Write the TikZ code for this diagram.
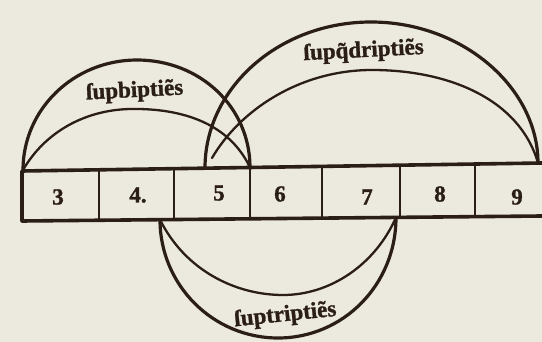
\documentclass[tikz,border=0pt]{standalone}
\usepackage{fontspec}
\setmainfont{Liberation Serif}
\newfontfamily\heavyfont{Liberation Serif Bold}[FakeBold=1.2]
\definecolor{paper}{HTML}{ECE9DF}
\definecolor{ink}{HTML}{2A1E17}
\tikzset{
  stripline/.style={ink, line width=3.6pt, line join=round, line cap=round},
  divider/.style={ink, line width=2.2pt},
  outerarc/.style={ink, line width=3.2pt, line cap=round},
  innerarc/.style={ink, line width=2.3pt, line cap=round},
  numlabel/.style={text=ink, font=\fontsize{23}{23}\heavyfont, inner sep=0pt},
  arclabel/.style={text=ink, font=\fontsize{23}{23}\heavyfont, inner sep=0pt, anchor=base},
}
\begin{document}
\begin{tikzpicture}[x=1pt, y=-1pt]
  \fill[paper] (0,0) rectangle (542,342);
  \useasboundingbox (0,0) rectangle (542,342);

  % strip corners
  \coordinate (sTL) at (22,171);
  \coordinate (sTR) at (542,163);
  \coordinate (sBL) at (22,221);
  \coordinate (sBR) at (542,216);
  \draw[stripline] (sTR) -- (sTL) -- (sBL) -- (sBR);

  % dividers
  \foreach \i/\x/\t/\b in {1/99/169.8/220.3, 2/174/168.7/219.5, 3/250/167.5/218.8,
                           4/322/166.4/218.1, 5/400/165.2/217.4, 6/475/164.0/216.6} {
    \coordinate (d\i t) at (\x,\t);
    \coordinate (d\i b) at (\x,\b);
    \draw[divider] (d\i t) -- (d\i b);
  }

  % numbers
  \node[numlabel] (n3) at (58,197) {3};
  \node[numlabel] (n4) at (138,195) {4.};
  \node[numlabel] (n5) at (219,193) {5};
  \node[numlabel] (n6) at (280,194) {6};
  \node[numlabel] (n7) at (367,197) {7};
  \node[numlabel] (n8) at (440,194) {8};
  \node[numlabel] (n9) at (517,197) {9};

  % arc end points
  \coordinate (bA) at (23,170);
  \coordinate (bB) at (250,167.5);
  \coordinate (qA) at (205,168);
  \coordinate (qAi) at (212,158);
  \coordinate (qB) at (538,163);
  \coordinate (tA) at (160,219.7);
  \coordinate (tB) at (396,217.4);

  % superbipartientes
  \draw[outerarc] (bA) .. controls (23,109) and (74,60) .. (137,60)
                       .. controls (200,60) and (250,107) .. (bB);
  \draw[innerarc] (bA) .. controls (45,132) and (85,110) .. (130,109)
                       .. controls (185,108) and (230,125) .. (bB);

  % superquadripartientes
  \draw[outerarc] (qA) .. controls (205,88) and (279,22) .. (371,22)
                       .. controls (463,22) and (538,88) .. (qB);
  \draw[innerarc] (qAi) .. controls (240,110) and (300,70) .. (372,70)
                        .. controls (450,70) and (520,100) .. (qB);

  % supertripartientes
  \draw[outerarc] (tA) .. controls (160,285) and (213,338) .. (278,338)
                       .. controls (343,338) and (396,285) .. (tB);
  \draw[innerarc] (tA) .. controls (185,270) and (235,295) .. (283,295)
                       .. controls (330,295) and (375,265) .. (tB);

  % labels
  \node[arclabel, rotate=3] (lb) at (135,97) {ſupbiptiẽs};
  \node[arclabel, rotate=3] (lq) at (364,57) {ſupq̃driptiẽs};
  \node[arclabel, rotate=6] (lt) at (286,321) {ſuptriptiẽs};
\end{tikzpicture}
\end{document}
